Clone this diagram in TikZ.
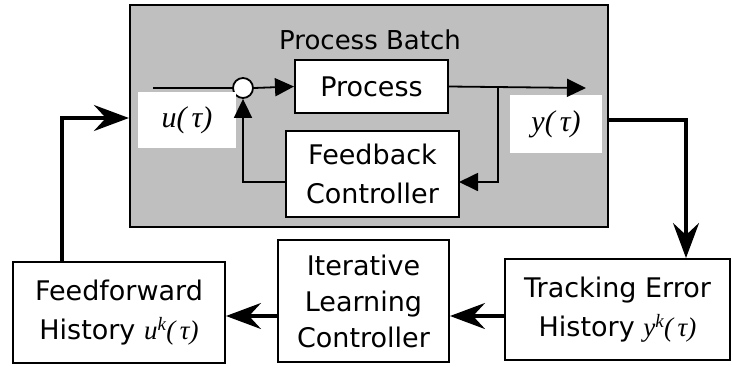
\documentclass[tikz,border=0pt]{standalone}
\usepackage{fontspec}
\setmainfont{DejaVu Sans}
\newfontfamily\mathser{Liberation Serif}
\newcommand{\tm}[1]{{\mathser\itshape #1}}
\usepackage{tikz}
\usetikzlibrary{arrows.meta,calc}

\begin{document}
\begin{tikzpicture}[x=1pt,y=-1pt,
    box/.style={draw=black,fill=white,line width=2pt,align=center,inner sep=0pt,
      font=\fontsize{27}{39}\selectfont},
    inner/.style={line width=1.8pt,-{Triangle[length=19pt,width=18pt]}},
    outer/.style={line width=3.3pt,-{Stealth[length=35pt,width=26pt,inset=12pt]}}]
    \useasboundingbox (0,0) rectangle (733,368);
    % process batch
    \node[draw=black,fill=gray!50,line width=2.2pt,minimum width=478pt,minimum height=222pt] (batch) at (369,116) {};
    \node[font=\fontsize{26}{30}\selectfont] (title) at (370,40) {Process Batch};
    \node[box,minimum width=153pt,minimum height=53pt] (proc) at (371.5,86.5) {Process};
    \node[box,minimum width=173pt,minimum height=86pt] (fb) at (372.5,174) {Feedback\\Controller};
    \node[draw=black,fill=white,line width=1.8pt,circle,minimum size=20pt,inner sep=0pt] (sum) at (243,88) {};
    \node[fill=white,minimum width=98pt,minimum height=56pt,font=\fontsize{30}{32}\selectfont] (ubox) at (187,120) {\tm{u(\,τ)}};
    \node[fill=white,minimum width=92pt,minimum height=58pt,font=\fontsize{30}{32}\selectfont] (ybox) at (556,124) {\tm{y(\,τ)}};
    \coordinate (in) at (153,88);
    \coordinate (out) at (586,88);
    \coordinate (br) at (498,88);
    \coordinate (fbin) at (459,182);
    \draw[line width=1.8pt] (in) -- (sum.west);
    \draw[inner] (sum.east) -- (proc.west);
    \draw[inner] (proc.east) -- (out);
    \draw[inner] (br) |- (fbin);
    \draw[inner] (fb.west |- fbin) -| (sum.south);
    % learning loop
    \node[box,minimum width=225pt,minimum height=101pt] (track) at (617.5,309.5) {Tracking Error\\History \tm{y\textsuperscript{k}(\,τ)}};
    \node[box,minimum width=171pt,minimum height=122pt,font=\fontsize{27}{36}\selectfont] (ilc) at (363.5,301) {Iterative\\Learning\\Controller};
    \node[box,minimum width=212pt,minimum height=101pt] (ff) at (119,312.5) {Feedforward\\History \tm{u\textsuperscript{k}(\,τ)}};
    \coordinate (ydown) at (686,120);
    \coordinate (ffup) at (62,118);
    \coordinate (low) at (0,316);
    \draw[outer] (batch.east |- ydown) -| (track.north -| ydown);
    \draw[outer] (track.west |- low) -- (ilc.east |- low);
    \draw[outer] (ilc.west |- low) -- (ff.east |- low);
    \draw[outer] (ff.north -| ffup) |- (batch.west |- ffup);
  \end{tikzpicture}
\end{document}
